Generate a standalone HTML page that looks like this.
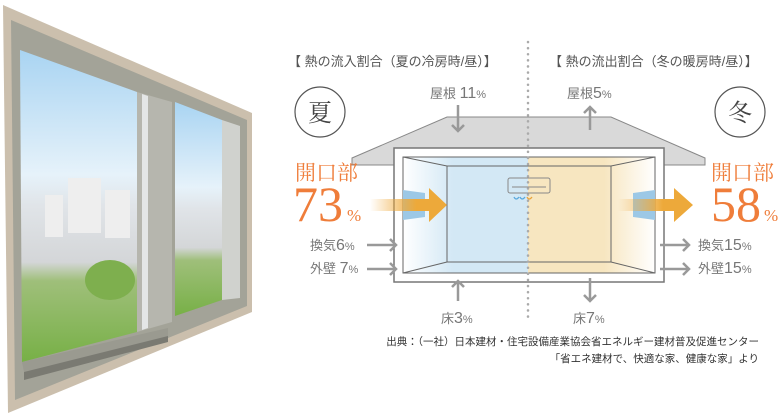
<!DOCTYPE html>
<html><head><meta charset="utf-8"><style>
html,body{margin:0;padding:0;background:#fff;}
svg{display:block;font-family:"Liberation Sans","Noto Sans CJK JP",sans-serif;}
</style></head><body>
<svg width="781" height="415" viewBox="0 0 781 415" xmlns="http://www.w3.org/2000/svg">
<defs>
<linearGradient id="sky" x1="0" y1="0" x2="0" y2="1">
<stop offset="0" stop-color="#a9d4f2"/><stop offset="0.4" stop-color="#e6f2fa"/><stop offset="0.5" stop-color="#e0e4e8"/><stop offset="0.68" stop-color="#d4d6d8"/><stop offset="0.74" stop-color="#9fbf7a"/><stop offset="1" stop-color="#77b046"/></linearGradient>
<linearGradient id="bl" x1="0" x2="1"><stop offset="0" stop-color="#fff"/><stop offset="0.4" stop-color="#d3e8f5"/><stop offset="1" stop-color="#d3e8f5"/></linearGradient>
<linearGradient id="yl" x1="1" x2="0"><stop offset="0" stop-color="#fff"/><stop offset="0.4" stop-color="#f7e6c0"/><stop offset="1" stop-color="#f7e6c0"/></linearGradient>
<linearGradient id="oa" x1="0" x2="1"><stop offset="0" stop-color="#f0a93a" stop-opacity="0"/><stop offset="0.6" stop-color="#eda93a"/><stop offset="1" stop-color="#eda93a"/></linearGradient>
</defs>
<!-- window -->
<polygon points="3,5 252,113 252,312 8,413" fill="#cbbfad"/>
<polygon points="11,20 247,120 247,306 15,400" fill="#a3a398"/>
<polygon points="20,50 137,92 137,332 22,362" fill="url(#sky)"/>
<g fill="#eeeeee">
<rect x="68" y="178" width="33" height="55"/><rect x="45" y="195" width="18" height="42"/><rect x="105" y="190" width="25" height="48"/>
<rect x="183" y="180" width="30" height="62"/>
</g>
<g fill="#7eaf4e"><ellipse cx="110" cy="280" rx="25" ry="20"/><ellipse cx="200" cy="280" rx="18" ry="15"/></g>
<polygon points="137,92 172,102 172,322 137,332" fill="#b6b6ae"/>
<polygon points="142,94 148,96 148,328 142,330" fill="#e4e6e6"/>
<polygon points="175,102 222,120 222,300 175,316" fill="url(#sky)"/>
<polygon points="222,120 240,126 240,298 222,300" fill="#d0d2ce"/>
<polygon points="22,362 168,328 168,336 24,372" fill="#9a9a90"/>
<polygon points="24,372 168,336 168,342 24,380" fill="#7a7a72"/>
<!-- diagram -->
<text x="288" y="66" font-size="13" fill="#555">【 熱の流入割合（夏の冷房時/昼）】</text>
<text x="549" y="66" font-size="13" fill="#555">【 熱の流出割合（冬の暖房時/昼）】</text>
<circle cx="320" cy="112" r="25" fill="#fff" stroke="#555" stroke-width="1.2"/>
<text x="320" y="121" font-size="24" text-anchor="middle" fill="#444" font-family="Liberation Serif,'Noto Serif CJK SC',serif">夏</text>
<circle cx="740" cy="112" r="25" fill="#fff" stroke="#555" stroke-width="1.2"/>
<text x="740" y="121" font-size="24" text-anchor="middle" fill="#444" font-family="Liberation Serif,'Noto Serif CJK SC',serif">冬</text>
<polygon points="447,117 611,117 705,158 705,165 352,165 352,158" fill="#d9d9d9" stroke="#888" stroke-width="1"/>
<rect x="394" y="148" width="270" height="134" fill="#fff" stroke="#777" stroke-width="1.5"/>
<rect x="403" y="157" width="125" height="116" fill="url(#bl)"/>
<rect x="528" y="157" width="127" height="116" fill="url(#yl)"/>
<rect x="403" y="157" width="252" height="116" fill="none" stroke="#666" stroke-width="1"/>
<rect x="447" y="166" width="164" height="96" fill="none" stroke="#666" stroke-width="1"/>
<path d="M403,157L447,166M655,157L611,166M403,273L447,262M655,273L611,262" stroke="#666" stroke-width="1"/>
<rect x="508" y="178" width="42" height="15" rx="2" fill="none" stroke="#888"/>
<line x1="512" y1="187" x2="546" y2="187" stroke="#888"/>
<path d="M514,197q2,4 5,0M520,197q2,4 5,0" stroke="#5aa9dd" fill="none" stroke-width="1.3"/>
<path d="M527,197q2,4 5,0" stroke="#e9a33a" fill="none" stroke-width="1.3"/>
<polygon points="403,190 425,193 425,217 403,220" fill="#9cc8e6"/>
<polygon points="655,190 633,193 633,217 655,220" fill="#9cc8e6"/>
<line x1="528" y1="42" x2="528" y2="320" stroke="#aaa" stroke-width="2.5" stroke-dasharray="0.1 6" stroke-linecap="round"/>
<polygon points="370,199 429,199 429,188 447,205 429,222 429,211 370,211" fill="url(#oa)"/>
<polygon points="618,199 674,199 674,188 693,205 674,222 674,211 618,211" fill="url(#oa)"/>
<g fill="#ef7d3a" font-family="Liberation Serif,'Noto Serif CJK SC',serif">
<text x="295" y="180" font-size="21">開口部</text>
<text x="293" y="221" font-size="50">73</text><text x="347" y="221" font-size="17">%</text>
<text x="711" y="180" font-size="21">開口部</text>
<text x="711" y="221" font-size="50">58</text><text x="764" y="221" font-size="17">%</text>
</g>
<g fill="#777" font-size="13">
<text x="430" y="98">屋根 <tspan font-size="16">11</tspan><tspan font-size="11">%</tspan></text>
<text x="567" y="98">屋根<tspan font-size="16">5</tspan><tspan font-size="11">%</tspan></text>
<text x="310" y="250">換気<tspan font-size="16">6</tspan><tspan font-size="11">%</tspan></text>
<text x="310" y="273">外壁 <tspan font-size="16">7</tspan><tspan font-size="11">%</tspan></text>
<text x="698" y="250">換気<tspan font-size="16">15</tspan><tspan font-size="11">%</tspan></text>
<text x="698" y="273">外壁<tspan font-size="16">15</tspan><tspan font-size="11">%</tspan></text>
<text x="441" y="323">床<tspan font-size="16">3</tspan><tspan font-size="11">%</tspan></text>
<text x="573" y="323">床<tspan font-size="16">7</tspan><tspan font-size="11">%</tspan></text>
</g>
<g stroke="#999" stroke-width="2.5" fill="none">
<path d="M458,105V131M452,125l6,6l6,-6"/>
<path d="M590,130V107M584,113l6,-6l6,6"/>
<path d="M367,245H396M390,239l6,6l-6,6"/>
<path d="M367,269H396M390,263l6,6l-6,6"/>
<path d="M660,245H689M683,239l6,6l-6,6"/>
<path d="M660,269H689M683,263l6,6l-6,6"/>
<path d="M458,301V281M452,287l6,-6l6,6"/>
<path d="M590,278V301M584,295l6,6l6,-6"/>
</g>
<text x="759" y="345" font-size="10.5" fill="#333" text-anchor="end">出典：（一社）日本建材・住宅設備産業協会省エネルギー建材普及促進センター</text>
<text x="759" y="362" font-size="10.5" fill="#333" text-anchor="end">「省エネ建材で、快適な家、健康な家」より</text>
</svg>
</body></html>
